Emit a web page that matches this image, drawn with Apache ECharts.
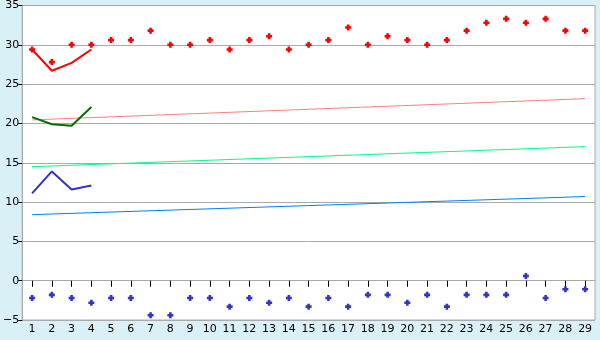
<!DOCTYPE html>
<html><head><meta charset="utf-8">
<script src="https://cdn.jsdelivr.net/npm/echarts@6/dist/echarts.min.js"></script>
<style>html,body{margin:0;padding:0;background:#daf0f7}#c{width:600px;height:340px}</style>
</head><body><div id="c"></div>
<script>
const categories = ['1','2','3','4','5','6','7','8','9','10','11','12','13','14','15','16','17','18','19','20','21','22','23','24','25','26','27','28','29'];
const redPoints = [29.4,27.8,30.0,30.0,30.6,30.6,31.8,30.0,30.0,30.6,29.4,30.6,31.1,29.4,30.0,30.6,32.2,30.0,31.1,30.6,30.0,30.6,31.8,32.8,33.3,32.8,33.3,31.8,31.8];
const bluePoints = [-2.2,-1.8,-2.2,-2.8,-2.2,-2.2,-4.4,-4.4,-2.2,-2.2,-3.3,-2.2,-2.8,-2.2,-3.3,-2.2,-3.3,-1.8,-1.8,-2.8,-1.8,-3.3,-1.8,-1.8,-1.8,0.6,-2.2,-1.1,-1.1];
const redLine = [29.4,26.7,27.7,29.4];
const greenLine = [20.8,19.9,19.7,22.1];
const blueLine = [11.1,13.9,11.6,12.1];
const pinkTrend = [[0,20.45],[28,23.15]];
const springTrend = [[0,14.5],[28,17.05]];
const azureTrend = [[0,8.4],[28,10.7]];
const yTicks = {min:-5,max:35,interval:5};

const marker = 'path://M2,0H5V2H7V5H5V7H2V5H0V2H2Z';
const chart = echarts.init(document.getElementById('c'));
function lineS(data,color,w){return {type:'line',data:data,symbol:'none',lineStyle:{color:color,width:w},itemStyle:{color:color},animation:false,silent:true,z:3};}
chart.setOption({
  backgroundColor:'#daf0f7',
  animation:false,
  grid:{left:21,right:5,top:5,bottom:20,show:true,backgroundColor:'#fff',borderColor:'#aaa',borderWidth:1,containLabel:false},
  xAxis:{type:'category',data:categories,boundaryGap:true,
    axisLine:{show:true,lineStyle:{color:'#aaa'}},
    axisTick:{show:true,alignWithLabel:true,length:6,lineStyle:{color:'#000'}},
    axisLabel:{color:'#000',fontFamily:'DejaVu Sans',fontSize:11,margin:4,interval:0},
    splitLine:{show:false}},
  yAxis:{type:'value',min:yTicks.min,max:yTicks.max,interval:yTicks.interval,
    axisLine:{show:true,lineStyle:{color:'#aaa'}},
    axisTick:{show:true,length:4,lineStyle:{color:'#000'}},
    axisLabel:{color:'#000',fontFamily:'DejaVu Sans',fontSize:11,margin:3,formatter:v=>String(v).replace('-','\u2212')},
    splitLine:{show:true,lineStyle:{color:'#aaa',width:1}}},
  series:[
    lineS(pinkTrend,'#ff8080',1),
    lineS(springTrend,'#00ff80',1),
    lineS(azureTrend,'#0080ff',1),
    lineS(redLine,'#ff0000',2),
    lineS(greenLine,'#007000',2),
    lineS(blueLine,'#3333cc',2),
    {type:'scatter',data:redPoints,symbol:marker,symbolSize:6,itemStyle:{color:'#ff0000',opacity:1},z:4},
    {type:'scatter',data:bluePoints,symbol:marker,symbolSize:6,itemStyle:{color:'#3333cc',opacity:1},z:4}
  ]
});
</script></body></html>
